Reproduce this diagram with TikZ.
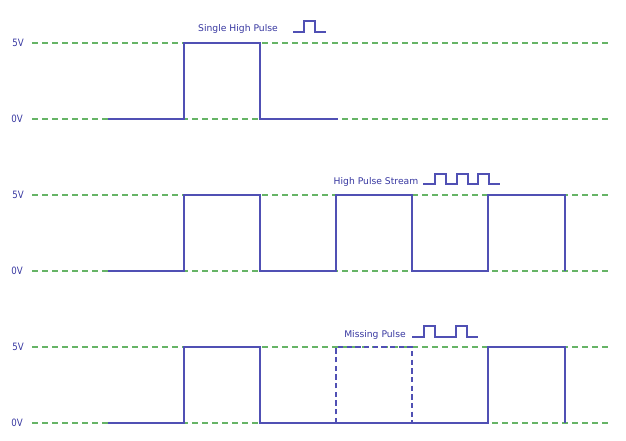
\documentclass[tikz,border=0pt]{standalone}
\usepackage{fontspec}
\setmainfont{DejaVu Sans}
\definecolor{gridgreen}{RGB}{102,180,102}
\definecolor{waveblue}{RGB}{80,80,180}
\definecolor{textblue}{RGB}{55,55,160}
\begin{document}
\begin{tikzpicture}[x=0.75pt,y=-0.75pt,
  grid/.style={draw=gridgreen, line width=0.8pt, dash pattern=on 4.5pt off 3pt},
  wave/.style={draw=waveblue, line width=0.8pt},
  wavedash/.style={wave, dash pattern=on 4pt off 2.5pt},
  lbl/.style={text=textblue, font=\fontsize{6.9pt}{8pt}\selectfont, inner sep=0pt},
  vlbl/.style={lbl, font=\fontsize{7.6pt}{8pt}\selectfont, xscale=0.85}]
\useasboundingbox (0,0) rectangle (626,440);
\foreach \hi/\lo [count=\i] in {43/119,195/271,347/423}{
  \draw[grid] (32,\hi) -- (610,\hi);
  \draw[grid] (32,\lo) -- (610,\lo);
  \node[vlbl] (h\i) at (18,\hi) {5V};
  \node[vlbl] (l\i) at (17,\lo) {0V};
}
% panel 1
\draw[wave] (108,119) -- (184,119) -- (184,43) -- (260,43) -- (260,119) -- (338,119);
\node[lbl] (t1) at (238,29) {Single High Pulse};
\draw[wave] (293,32) -- (304,32) -- (304,21) -- (315,21) -- (315,32) -- (326,32);
% panel 2
\draw[wave] (108,271) -- (184,271) -- (184,195) -- (260,195) -- (260,271) -- (336,271) -- (336,195) -- (412,195) -- (412,271) -- (488,271) -- (488,195) -- (565,195) -- (565,271);
\node[lbl] (t2) at (376,182) {High Pulse Stream};
\draw[wave] (423,184) -- (435,184) -- (435,174) -- (446,174) -- (446,184) -- (457,184) -- (457,174) -- (468,174) -- (468,184) -- (478,184) -- (478,174) -- (489,174) -- (489,184) -- (500,184);
% panel 3
\draw[wave] (108,423) -- (184,423) -- (184,347) -- (260,347) -- (260,423) -- (488,423) -- (488,347) -- (565,347) -- (565,423);
\draw[wavedash] (336,423) -- (336,347) -- (412,347) -- (412,423);
\node[lbl] (t3) at (375,335) {Missing Pulse};
\draw[wave] (412,337) -- (424,337) -- (424,326) -- (435,326) -- (435,337) -- (456,337) -- (456,326) -- (467,326) -- (467,337) -- (478,337);
\end{tikzpicture}
\end{document}
